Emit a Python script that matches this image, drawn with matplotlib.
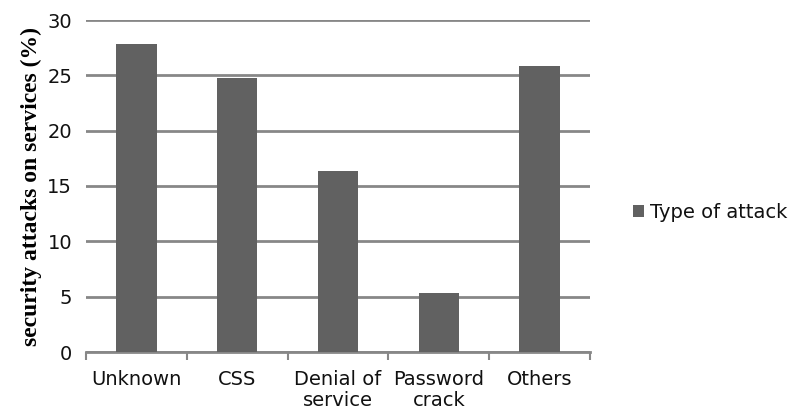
import matplotlib
matplotlib.use("Agg")
import matplotlib.pyplot as plt
import numpy as np

categories = ["Unknown", "CSS", "Denial of\nservice", "Password\ncrack", "Others"]
values = [27.8, 24.8, 16.4, 5.3, 25.8]
yticks = [0, 5, 10, 15, 20, 25, 30]

bar_color = "#616161"
grid_color = "#878787"

fig = plt.figure(figsize=(7.91, 4.12), dpi=100)
ax = fig.add_axes([86 / 791, 1 - 352 / 412, (590 - 86) / 791, (352 - 20) / 412])

x = np.arange(len(categories))
ax.bar(x, values, width=0.4, color=bar_color, label="Type of attack", zorder=3)

ax.set_xlim(-0.5, len(categories) - 0.5)
ax.set_ylim(0, 30)
ax.set_yticks(yticks)
ax.yaxis.grid(True, color=grid_color, linewidth=2)
ax.set_axisbelow(True)

for s in ["top", "right", "left"]:
    ax.spines[s].set_visible(False)
ax.spines["bottom"].set_color(grid_color)
ax.spines["bottom"].set_linewidth(2)

# category labels centred, ticks at the boundaries
ax.set_xticks(x)
ax.set_xticklabels(categories, fontsize=14, linespacing=1.1, color="#111111")
ax.tick_params(axis="x", length=0, pad=13)
ax.set_xticks(np.arange(len(categories) + 1) - 0.5, minor=True)
ax.tick_params(axis="x", which="minor", length=6, width=1.5, color=grid_color)
ax.tick_params(axis="y", length=0, labelsize=14, pad=10, labelcolor="#111111")

ax.set_ylabel("security attacks on services (%)", fontsize=17, family="Liberation Serif",
              fontweight="bold", labelpad=4)

ax.legend(loc="center left", bbox_to_anchor=(1.05, 0.42), frameon=False, fontsize=14,
          handlelength=0.6, handleheight=0.6, handletextpad=0.3, labelcolor="#111111")

fig.savefig("out.png", dpi=100)
